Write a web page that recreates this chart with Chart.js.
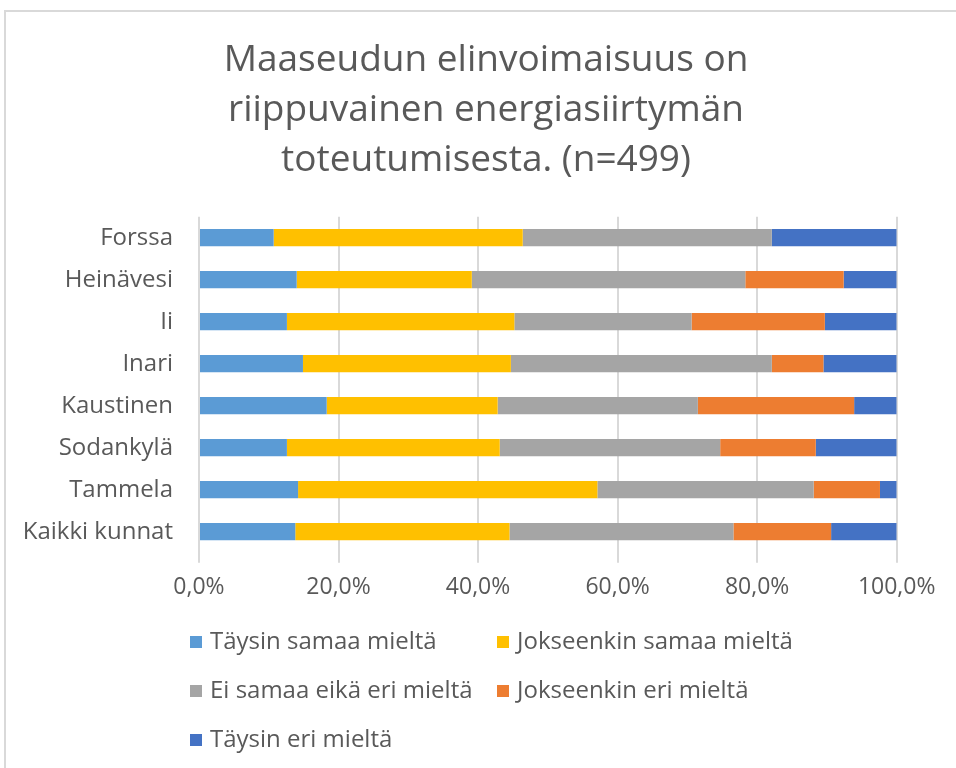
<!DOCTYPE html>
<html>
<head>
<meta charset="utf-8">
<script src="https://cdn.jsdelivr.net/npm/chart.js@4"></script>
<style>
  html, body { margin: 0; padding: 0; background: #fff; }
  body { width: 956px; height: 768px; position: relative; overflow: hidden; }
  #frame { position: absolute; left: 4px; top: 10px; width: 1000px; height: 800px;
           border-left: 2px solid #D9D9D9; border-top: 2px solid #D9D9D9; }
  #wrap { position: absolute; left: 0; top: 0; width: 956px; height: 768px; }
</style>
</head>
<body>
<div id="frame"></div>
<div id="wrap"><canvas id="c" width="956" height="768"></canvas></div>
<script>
const titleLines = ["Maaseudun elinvoimaisuus on", "riippuvainen energiasiirtymän", "toteutumisesta. (n=499)"];
const categories = ["Forssa", "Heinävesi", "Ii", "Inari", "Kaustinen", "Sodankylä", "Tammela", "Kaikki kunnat"];
const seriesNames = ["Täysin samaa mieltä", "Jokseenkin samaa mieltä", "Ei samaa eikä eri mieltä", "Jokseenkin eri mieltä", "Täysin eri mieltä"];
const taysinSamaa      = [10.7, 14.0, 12.6, 14.9, 18.3, 12.6, 14.2, 13.8];
const jokseenkinSamaa  = [35.7, 25.1, 32.6, 29.8, 24.5, 30.5, 42.9, 30.7];
const eiSamaaEikaEri   = [35.7, 39.2, 25.4, 37.4, 28.7, 31.6, 31.0, 32.1];
const jokseenkinEri    = [0.0, 14.1, 19.1, 7.4, 22.4, 13.7, 9.5, 14.0];
const taysinEri        = [17.9, 7.6, 10.3, 10.5, 6.1, 11.6, 2.4, 9.4];
const xTicks = [0, 20, 40, 60, 80, 100];

const colors = ["#5B9BD5", "#FFC000", "#A5A5A5", "#ED7D31", "#4472C4"];
const seriesValues = [taysinSamaa, jokseenkinSamaa, eiSamaaEikaEri, jokseenkinEri, taysinEri];
const textColor = "#595959";
const fontFamily = "'Open Sans', 'Noto Sans', sans-serif";

const decorPlugin = {
  id: 'decor',
  afterDraw(chart) {
    const ctx = chart.ctx;
    ctx.save();
    // Title
    ctx.fillStyle = textColor;
    ctx.font = "37px " + fontFamily;
    ctx.textAlign = "center";
    ctx.textBaseline = "middle";
    const titleY = [60, 110, 160];
    titleLines.forEach((t, i) => ctx.fillText(t, 486, titleY[i]));
    // Legend (two columns, left aligned)
    ctx.font = "24px " + fontFamily;
    ctx.textAlign = "left";
    const colX = [190, 497];
    const rowY = [642, 691, 740];
    chart.data.datasets.forEach((ds, i) => {
      const x = colX[i % 2];
      const y = rowY[Math.floor(i / 2)];
      ctx.fillStyle = ds.backgroundColor;
      ctx.fillRect(x, y - 6, 12, 12);
      ctx.fillStyle = textColor;
      ctx.fillText(ds.label, x + 20, y);
    });
    ctx.restore();
  }
};

function build() {
  const ctx = document.getElementById('c').getContext('2d');
  new Chart(ctx, {
    type: 'bar',
    data: {
      labels: categories,
      datasets: seriesNames.map((name, i) => ({
        label: name,
        data: seriesValues[i],
        backgroundColor: colors[i],
        borderWidth: 0,
        categoryPercentage: 1.0,
        barPercentage: 0.41
      }))
    },
    options: {
      indexAxis: 'y',
      responsive: false,
      animation: false,
      devicePixelRatio: 1,
      layout: { padding: { top: 216.7, right: 59.3, bottom: 0, left: 0 } },
      plugins: {
        legend: { display: false },
        title: { display: false },
        tooltip: { enabled: false }
      },
      scales: {
        x: {
          stacked: true,
          min: 0,
          max: 100,
          afterBuildTicks(scale) { scale.ticks = xTicks.map(v => ({ value: v })); },
          afterFit(scale) { scale.height = 768 - 552.7; },
          grid: { color: "#D9D9D9", lineWidth: 2, drawTicks: true, tickLength: 10, tickColor: "#D9D9D9" },
          border: { display: false },
          ticks: {
            color: textColor,
            font: { family: fontFamily, size: 23 },
            padding: 11,
            maxRotation: 0,
            callback: v => v.toFixed(1).replace('.', ',') + '%'
          }
        },
        y: {
          stacked: true,
          afterFit(scale) { scale.width = 199; },
          grid: { display: false, drawTicks: false },
          border: { display: false },
          ticks: {
            color: textColor,
            font: { family: fontFamily, size: 24 },
            padding: 26
          }
        }
      }
    },
    plugins: [decorPlugin]
  });
}

const fontLoads = [document.fonts.load("24px 'Open Sans'"), document.fonts.load("37px 'Open Sans'")];
Promise.all(fontLoads).then(build, build);
</script>
</body>
</html>
